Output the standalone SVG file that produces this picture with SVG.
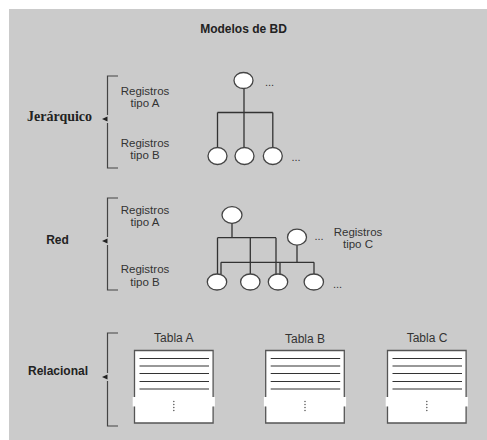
<svg xmlns="http://www.w3.org/2000/svg" width="487" height="440" viewBox="0 0 487 440">
  <style>
    .lbl { font-family: "Liberation Sans", Arial, sans-serif; font-size: 12px; fill: #333; }
    .rt { font-family: "Liberation Sans", Arial, sans-serif; font-size: 11.5px; fill: #333; }
    .head { font-family: "Liberation Sans", Arial, sans-serif; font-size: 12px; font-weight: bold; fill: #222; }
    .serif { font-family: "Liberation Serif", "Times New Roman", serif; font-size: 14px; font-weight: bold; fill: #222; }
    .dots { font-family: "Liberation Sans", Arial, sans-serif; font-size: 11px; fill: #333; }
    .rec { fill: #fff; stroke: #444; stroke-width: 1.3; }
    .wire { fill: none; stroke: #333; stroke-width: 1.3; }
    .brk { fill: none; stroke: #444; stroke-width: 1.2; }
    .tip { fill: #222; }
    .tbl { fill: #fff; }
    .edge { fill: none; stroke: #555; stroke-width: 1.3; }
    .row { stroke: #333; stroke-width: 1.2; }
    .vd { fill: #555; }
  </style>

  <!-- panel -->
  <rect x="0" y="0" width="487" height="440" fill="#fff"/>
  <rect x="9" y="9" width="478" height="431" fill="#cbcbcb"/>

  <text class="head" x="243.5" y="33" text-anchor="middle" font-size="13">Modelos de BD</text>

  <!-- section brackets with pointers -->
  <g id="brackets">
    <path class="brk" d="M118,76 H107.5 V115 M107.5,123 V168 H118"/>
    <polygon class="tip" points="102,119 107.5,116.5 107.5,121.5"/>
    <path class="brk" d="M118,198 H107.5 V237 M107.5,245 V290 H118"/>
    <polygon class="tip" points="102,241 107.5,238.5 107.5,243.5"/>
    <path class="brk" d="M118,333 H107.5 V373 M107.5,381 V426 H118"/>
    <polygon class="tip" points="102,377 107.5,374.5 107.5,379.5"/>
  </g>

  <!-- section titles -->
  <text class="serif" x="27" y="121">Jerárquico</text>
  <text class="head" x="57.5" y="243.5" text-anchor="middle">Red</text>
  <text class="head" x="28" y="374.5">Relacional</text>

  <!-- record type labels -->
  <g class="rt" text-anchor="middle">
    <text x="145" y="94.5">Registros</text>
    <text x="145" y="107">tipo A</text>
    <text x="145" y="146.5">Registros</text>
    <text x="145" y="159">tipo B</text>
    <text x="145" y="213.5">Registros</text>
    <text x="145" y="226">tipo A</text>
    <text x="145" y="273">Registros</text>
    <text x="145" y="285.5">tipo B</text>
    <text x="358" y="235.5">Registros</text>
    <text x="358" y="248">tipo C</text>
  </g>

  <!-- connectors -->
  <g id="connectors">
    <!-- hierarchical tree -->
    <path class="wire" d="M244,88 V148 M217.5,112.5 H272.8 M217.5,112.5 V148 M272.8,112.5 V148"/>
    <!-- network: owner A -->
    <path class="wire" d="M232,223 V237.7 M217.5,237.7 H276 M217.5,237.7 V274 M250.3,237.7 V274 M276,237.7 V274"/>
    <!-- network: owner C -->
    <path class="wire" d="M297,245 V262.3 M221,262.3 H314 M221,262.3 V274 M280,262.3 V274 M314,262.3 V274"/>
  </g>

  <!-- hierarchical nodes -->
  <g id="h-root"><ellipse class="rec" cx="243.5" cy="80.5" rx="9.5" ry="8"/></g>
  <g id="h-child1"><ellipse class="rec" cx="217.5" cy="156" rx="9.5" ry="8.5"/></g>
  <g id="h-child2"><ellipse class="rec" cx="244.5" cy="156" rx="9.5" ry="8.5"/></g>
  <g id="h-child3"><ellipse class="rec" cx="272.8" cy="156" rx="9.5" ry="8.5"/></g>
  <text class="dots" x="265" y="86">...</text>
  <text class="dots" x="291.5" y="161">...</text>

  <!-- network nodes -->
  <g id="n-a"><ellipse class="rec" cx="232" cy="215" rx="10" ry="8.3"/></g>
  <g id="n-c"><ellipse class="rec" cx="297" cy="237.2" rx="9.5" ry="8"/></g>
  <g id="n-b1"><ellipse class="rec" cx="217" cy="282" rx="9.7" ry="8"/></g>
  <g id="n-b2"><ellipse class="rec" cx="250.3" cy="282" rx="9.7" ry="8"/></g>
  <g id="n-b3"><ellipse class="rec" cx="278" cy="282" rx="9.7" ry="8"/></g>
  <g id="n-b4"><ellipse class="rec" cx="313.8" cy="282" rx="9.7" ry="8"/></g>
  <text class="dots" x="314.5" y="239.5">...</text>
  <text class="dots" x="333" y="288">...</text>

  <!-- relational tables -->
  <defs>
    <g id="table">
      <rect class="tbl" x="0" y="0" width="78.6" height="72.5"/>
      <rect class="tbl" x="-1.8" y="46.5" width="82.2" height="9.5"/>
      <path class="edge" d="M0,46.5 V0 H78.6 V46.5 M0,56 V72.5 H78.6 V56"/>
      <g class="row">
        <line x1="5" y1="8" x2="74.5" y2="8"/>
        <line x1="5" y1="15.5" x2="74.5" y2="15.5"/>
        <line x1="5" y1="23" x2="74.5" y2="23"/>
        <line x1="5" y1="31" x2="74.5" y2="31"/>
        <line x1="5" y1="38.5" x2="74.5" y2="38.5"/>
      </g>
      <g class="vd">
        <circle cx="39.3" cy="51" r="0.75"/>
        <circle cx="39.3" cy="54" r="0.75"/>
        <circle cx="39.3" cy="57" r="0.75"/>
        <circle cx="39.3" cy="60" r="0.75"/>
      </g>
    </g>
  </defs>

  <g id="tabla-a">
    <text class="lbl" x="173.8" y="341.7" text-anchor="middle">Tabla A</text>
    <use href="#table" x="134.5" y="350.5"/>
  </g>
  <g id="tabla-b">
    <text class="lbl" x="305" y="343.3" text-anchor="middle">Tabla B</text>
    <use href="#table" x="265.7" y="350.5"/>
  </g>
  <g id="tabla-c">
    <text class="lbl" x="427" y="341.7" text-anchor="middle">Tabla C</text>
    <use href="#table" x="387.5" y="350.5"/>
  </g>
</svg>
